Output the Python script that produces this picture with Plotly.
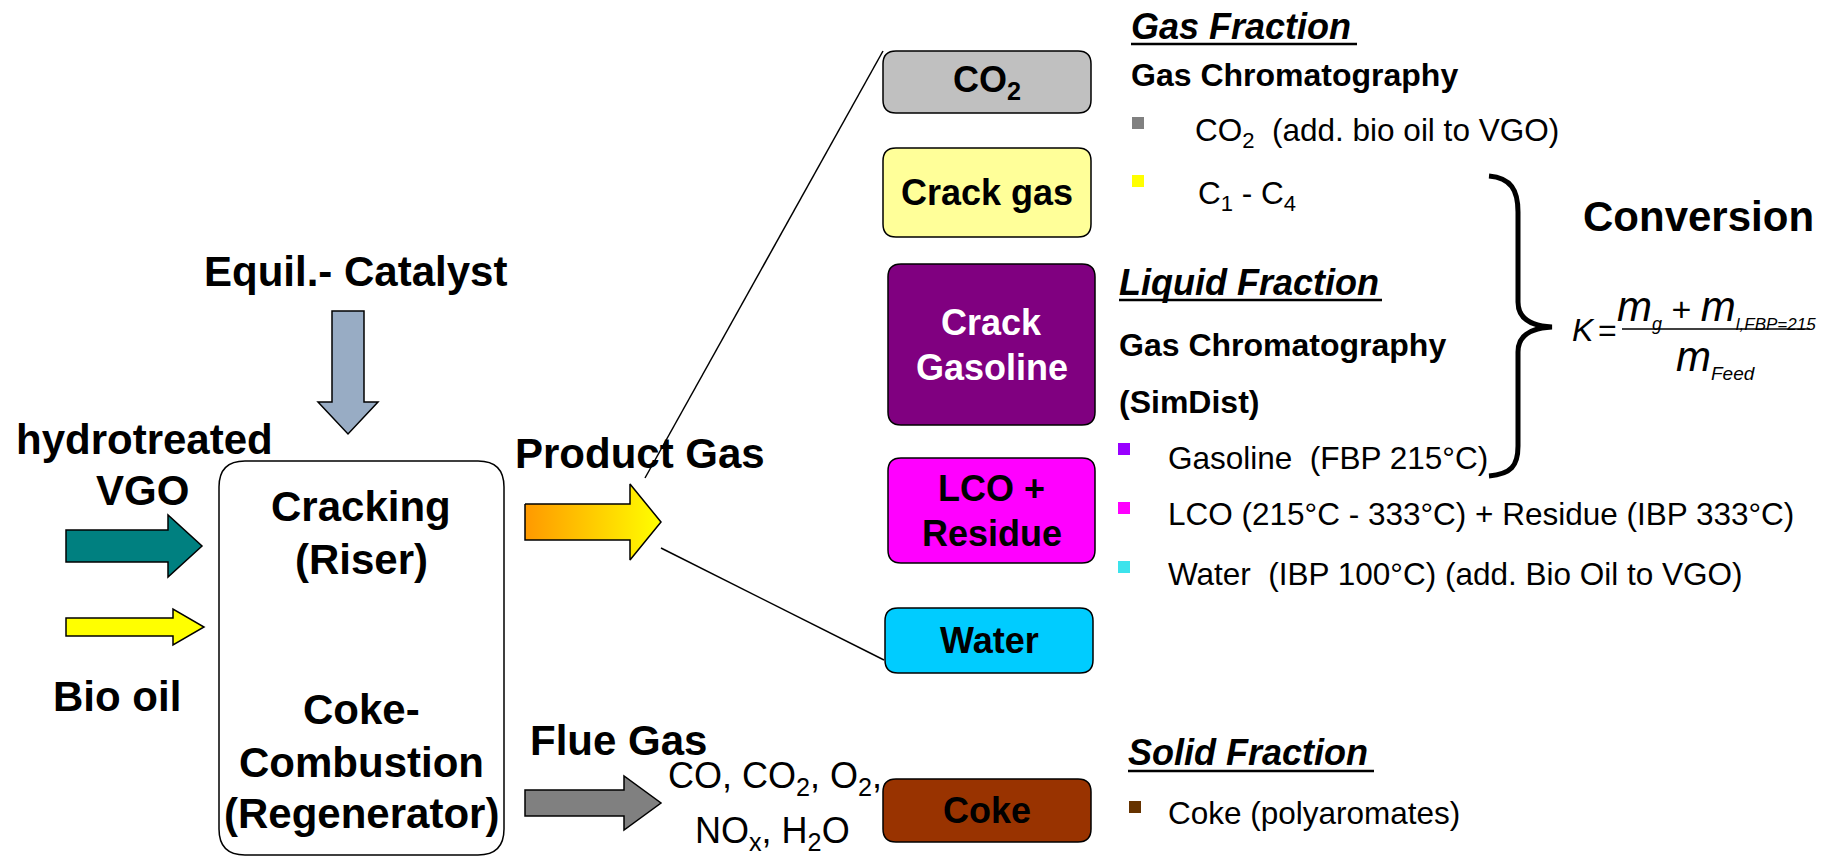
import plotly.graph_objects as go

W, H = 1829, 857
FONT = "Arial, 'Liberation Sans', sans-serif"

# ---------------- text content ----------------
catalyst_label = "Equil.- Catalyst"
feed_labels = ["hydrotreated", "VGO", "Bio oil"]
reactor_labels = ["Cracking", "(Riser)", "Coke-", "Combustion", "(Regenerator)"]
stream_labels = ["Product Gas", "Flue Gas"]
flue_gas_lines = ["CO, CO<sub>2</sub>, O<sub>2</sub>,", "NO<sub>x</sub>, H<sub>2</sub>O"]

product_labels = [["CO<sub>2</sub>"], ["Crack gas"], ["Crack", "Gasoline"],
                  ["LCO +", "Residue"], ["Water"], ["Coke"]]
product_fill = ["#C0C0C0", "#FFFF99", "#800080", "#FF00FF", "#00CCFF", "#993300"]
product_font = ["black", "black", "white", "black", "black", "black"]

fraction_titles = ["Gas Fraction", "Liquid Fraction", "Solid Fraction"]
method_labels = ["Gas Chromatography", "Gas Chromatography", "(SimDist)"]
bullet_labels = [
    "CO<sub>2</sub>\u00a0 (add. bio oil to VGO)",
    "C<sub>1</sub> - C<sub>4</sub>",
    "Gasoline\u00a0 (FBP 215°C)",
    "LCO (215°C - 333°C) + Residue (IBP 333°C)",
    "Water\u00a0 (IBP 100°C) (add. Bio Oil to VGO)",
    "Coke (polyaromates)",
]
bullet_colors = ["#808080", "#FFFF00", "#9900FF", "#FF00FF", "#3CE3EC", "#663300"]
conversion_label = "Conversion"

# ---------------- geometry (pixels) ----------------
box_geom = [(883, 51, 1091, 113), (883, 148, 1091, 237), (888, 264, 1095, 425),
            (888, 458, 1095, 563), (885, 608, 1093, 673), (883, 779, 1091, 842)]
bullet_geom = [(1132, 117, 1193, 132), (1132, 175, 1196, 195), (1118, 443, 1166, 458),
               (1118, 502, 1166, 514), (1118, 561, 1166, 574), (1129, 801, 1166, 813)]


def rounded_rect(x0, y0, x1, y1, r):
    return (f"M {x0+r},{y0} L {x1-r},{y0} Q {x1},{y0} {x1},{y0+r} "
            f"L {x1},{y1-r} Q {x1},{y1} {x1-r},{y1} L {x0+r},{y1} "
            f"Q {x0},{y1} {x0},{y1-r} L {x0},{y0+r} Q {x0},{y0} {x0+r},{y0} Z")


def right_arrow(x0, xh, x1, yc, sw, hw):
    return [(x0, yc - sw), (xh, yc - sw), (xh, yc - hw), (x1, yc),
            (xh, yc + hw), (xh, yc + sw), (x0, yc + sw), (x0, yc - sw)]


def down_arrow(xc, y0, yh, y1, sw, hw):
    return [(xc - sw, y0), (xc + sw, y0), (xc + sw, yh), (xc + hw, yh),
            (xc, y1), (xc - hw, yh), (xc - sw, yh), (xc - sw, y0)]


def poly_path(pts):
    return "M " + " L ".join(f"{x},{y}" for x, y in pts) + " Z"


fig = go.Figure()
shapes = []
annotations = []


def text(x, y, s, size, bold=False, italic=False, color="black", anchor="center"):
    if bold:
        s = f"<b>{s}</b>"
    if italic:
        s = f"<i>{s}</i>"
    annotations.append(dict(x=x, y=y, xref="x", yref="y", text=s, showarrow=False,
                            xanchor=anchor, yanchor="middle",
                            font=dict(family=FONT, size=size, color=color)))


def path_shape(path, fill, lw=1.5, color="black"):
    shapes.append(dict(type="path", path=path, xref="x", yref="y",
                       fillcolor=fill, line=dict(color=color, width=lw)))


# reactor box
path_shape(rounded_rect(219, 461, 504, 855, 26), "white", 1.5)

# feed arrows
path_shape(poly_path(right_arrow(66, 168, 202, 546, 16, 31)), "#008080")
path_shape(poly_path(right_arrow(66, 173, 204, 627, 9, 18)), "#FFFF00")
path_shape(poly_path(down_arrow(348, 311, 402, 434, 16, 30)), "#98ACC4")
path_shape(poly_path(right_arrow(525, 624, 661, 803, 13, 27)), "#808080")

# product gas arrow with gradient
pg = right_arrow(525, 630, 661, 522, 18, 38)
fig.add_trace(go.Scatter(
    x=[p[0] for p in pg], y=[p[1] for p in pg], mode="lines", fill="toself",
    fillgradient=dict(type="horizontal",
                      colorscale=[[0, "#FF9900"], [1, "#FFFF00"]]),
    line=dict(color="black", width=1.5), hoverinfo="skip", showlegend=False))

# spreading lines
shapes.append(dict(type="line", x0=645, y0=478, x1=883, y1=51, xref="x", yref="y",
                   line=dict(color="black", width=1.5)))
shapes.append(dict(type="line", x0=661, y0=548, x1=884, y1=660, xref="x", yref="y",
                   line=dict(color="black", width=1.5)))

# product boxes
for (x0, y0, x1, y1), labels, fill, fc in zip(box_geom, product_labels,
                                                product_fill, product_font):
    path_shape(rounded_rect(x0, y0, x1, y1, 13), fill, 1.5)
    cx, cy = (x0 + x1) / 2, (y0 + y1) / 2
    n = len(labels)
    for i, lab in enumerate(labels):
        text(cx, cy + (i - (n - 1) / 2) * 45, lab, 36, bold=True, color=fc)

# left side text
text(355, 271, catalyst_label, 42, bold=True)
text(144, 439, feed_labels[0], 42, bold=True)
text(142, 490, feed_labels[1], 42, bold=True)
text(117, 696, feed_labels[2], 42, bold=True)
for lab, y in zip(reactor_labels, [506, 559, 709, 762, 813]):
    text(361, y, lab, 42, bold=True)
text(640, 453, stream_labels[0], 42, bold=True)
text(618, 740, stream_labels[1], 42, bold=True)
text(775, 778, flue_gas_lines[0], 36)
text(772, 833, flue_gas_lines[1], 36)

# right side: fractions
title_geom = [(1129, 26, 1357, 44), (1117, 282, 1382, 300), (1126, 752, 1374, 771)]
for lab, (x0, y, x1, yu) in zip(fraction_titles, title_geom):
    text(x0, y, lab, 36, bold=True, italic=True, anchor="left")
    shapes.append(dict(type="line", x0=x0 + 2, x1=x1, y0=yu, y1=yu, xref="x", yref="y",
                       line=dict(color="black", width=2.5)))
for lab, (x, y) in zip(method_labels, [(1129, 75), (1117, 345), (1117, 402)]):
    text(x, y, lab, 32, bold=True, anchor="left")

for lab, col, (bx, by, tx, ty) in zip(bullet_labels, bullet_colors, bullet_geom):
    shapes.append(dict(type="rect", x0=bx, x1=bx + 12, y0=by, y1=by + 12,
                       xref="x", yref="y", fillcolor=col, line=dict(width=0)))
    text(tx, ty, lab, 31.5, anchor="left")

# brace
shapes.append(dict(type="path", xref="x", yref="y", line=dict(color="black", width=5),
                   path=("M 1489,176 C 1511,178 1518,190 1518,212 L 1518,302 "
                         "C 1518,318 1530,326 1552,327 C 1530,328 1518,336 1518,352 "
                         "L 1518,446 C 1518,466 1511,474 1489,476")))

# conversion formula
text(1698, 216, conversion_label, 42, bold=True)
text(1583, 330, "<i>K</i>", 32)
text(1607, 330, "=", 32)
shapes.append(dict(type="line", x0=1622, x1=1810, y0=329, y1=329, xref="x", yref="y",
                   line=dict(color="black", width=1.5)))
num = ("<i>m<sub><span style='font-size:18px'>g</span></sub></i>"
       "<span style='font-size:34px'> + </span>"
       "<i>m<sub><span style='font-size:17px'>l,FBP=215</span></sub></i>")
den = "<i>m<sub><span style='font-size:19px'>Feed</span></sub></i>"
text(1716, 308, num, 42)
text(1716, 358, den, 42)

fig.update_layout(
    width=W, height=H, margin=dict(l=0, r=0, t=0, b=0),
    paper_bgcolor="white", plot_bgcolor="white",
    xaxis=dict(range=[0, W], visible=False, fixedrange=True),
    yaxis=dict(range=[H, 0], visible=False, fixedrange=True),
    shapes=shapes, annotations=annotations, hovermode=False, showlegend=False,
)

fig.write_html("out.html", config={"displayModeBar": False},
               post_script="document.body.style.margin='0';document.body.style.overflow='hidden';")
